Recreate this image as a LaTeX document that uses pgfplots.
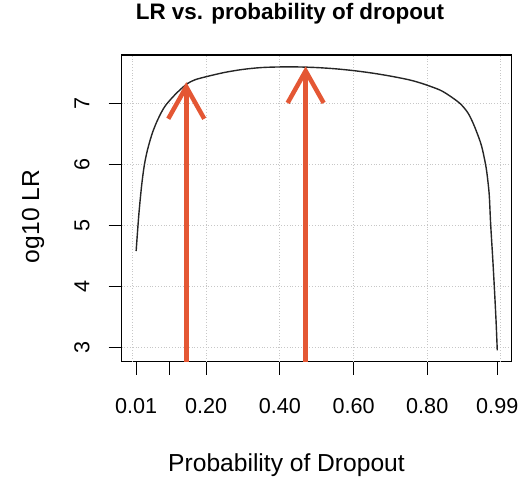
\documentclass[border=0pt]{standalone}
\usepackage{fontspec}
\setmainfont{Liberation Sans}
\usepackage{pgfplots}
\pgfplotsset{compat=1.18}
\usetikzlibrary{arrows.meta}
\definecolor{arrowred}{RGB}{228,87,52}
\begin{document}
\begin{tikzpicture}
\useasboundingbox (-60.85pt,-58.15pt) rectangle (201.65pt,180.85pt);
\begin{axis}[
  scale only axis, width=195pt, height=153.35pt,
  xmin=-0.0292, xmax=1.0292, ymin=2.764, ymax=7.796,
  axis line style={line width=0.6pt, black},
  tick pos=left, tick align=outside, major tick length=6.5pt,
  tick style={line width=0.6pt, black},
  xtick={0.01,0.1,0.2,0.4,0.6,0.8,0.99},
  xticklabels={0.01,,0.20,0.40,0.60,0.80,0.99},
  ytick={3,4,5,6,7},
  /pgf/number format/assume math mode=true,
  ticklabel style={font=\fontsize{10.8}{12}\selectfont},
  xticklabel style={anchor=base, yshift=-19.3pt},
  yticklabel style={rotate=90, anchor=base},
  yticklabel shift=9.7pt,
  extra x ticks={0,0.2,0.4,0.6,0.8,1},
  extra x tick labels={},
  extra x tick style={major tick length=0pt, xmajorgrids=true},
  ymajorgrids=true,
  grid style={densely dotted, black!22, line width=0.5pt},
  title={LR vs. probability of dropout},
  title style={at={(axis description cs:0.4315,1.076)}, anchor=base, font=\bfseries\fontsize{11.2}{13}\selectfont},
  xlabel={Probability of Dropout},
  xlabel style={at={(axis description cs:0.4226,-0.3587)}, anchor=base, font=\fontsize{12.3}{14}\selectfont},
  ylabel={og10 LR},
  ylabel style={at={(axis description cs:-0.212,0.4734)}, anchor=base, font=\fontsize{12.3}{14}\selectfont},
]
\addplot[black!85, line width=0.7pt, smooth, tension=0.5] coordinates {
(0.01,4.58) (0.016,5.08) (0.02,5.36) (0.025,5.66) (0.03,5.90) (0.034,6.05)
(0.04,6.22) (0.048,6.40) (0.056,6.55) (0.066,6.70) (0.078,6.85) (0.09,6.97)
(0.11,7.11) (0.13,7.23) (0.15,7.33) (0.17,7.39) (0.20,7.44) (0.25,7.51)
(0.30,7.56) (0.35,7.59) (0.40,7.60) (0.45,7.60) (0.50,7.59) (0.55,7.57)
(0.60,7.54) (0.65,7.50) (0.70,7.45) (0.75,7.39) (0.78,7.34) (0.80,7.30)
(0.835,7.22) (0.86,7.13) (0.889,7.00) (0.91,6.85) (0.925,6.67) (0.94,6.44)
(0.948,6.29) (0.955,6.10) (0.961,5.90) (0.968,5.52) (0.972,5.03) (0.978,4.43)
(0.983,3.88) (0.987,3.40) (0.99,2.95)
};
\addplot[arrowred, line width=2.25pt, -{Straight Barb[length=16pt,width=18pt]}] coordinates {(0.146,2.764) (0.146,7.35)};
\addplot[arrowred, line width=2.25pt, -{Straight Barb[length=16pt,width=18pt]}] coordinates {(0.470,2.764) (0.470,7.61)};
\end{axis}
\end{tikzpicture}
\end{document}
